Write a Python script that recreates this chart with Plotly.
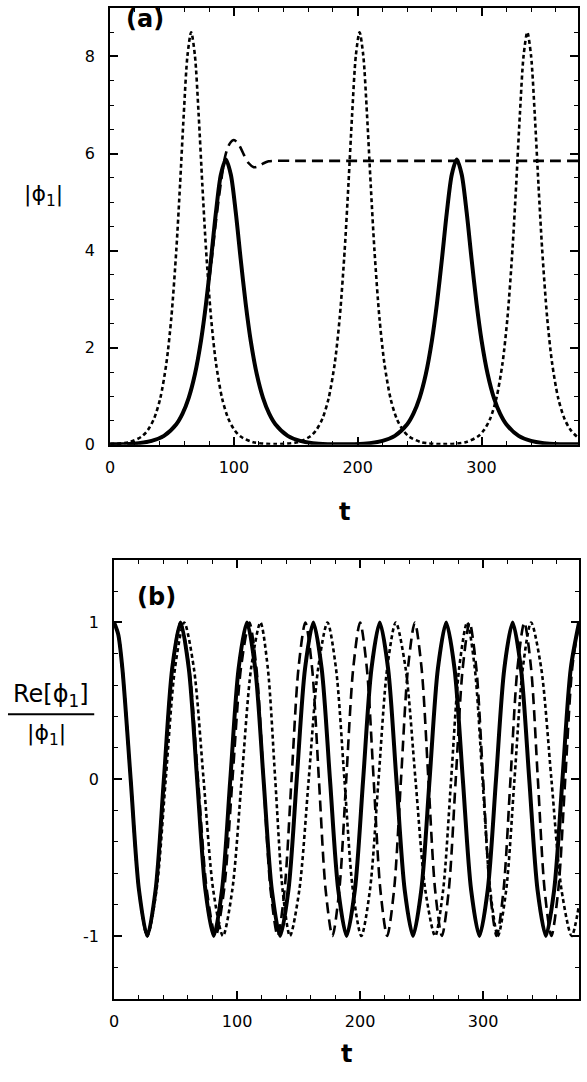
import plotly.graph_objects as go

W, H = 587, 1082

# ---------------- panel (a) data ----------------
a_t_solid = [0, 18.5, 33.5, 43.5, 53.5, 58.5, 63.5, 68.5, 73.5, 77.5, 81.5, 85.5, 89.5, 93.5, 97.5,
             101.5, 105.5, 109.5, 113.5, 118.5, 123.5, 128.5, 133.5, 143.5, 153.5, 168.5, 186.75,
             205, 220, 230, 240, 245, 250, 255, 260, 264, 268, 272, 276, 280, 284, 288, 292, 296,
             300, 305, 310, 315, 320, 330, 340, 355, 378]
a_solid = [0.01, 0.023, 0.081, 0.185, 0.425, 0.642, 0.969, 1.454, 2.158, 2.91, 3.82, 4.79, 5.57, 5.88, 5.57,
           4.79, 3.82, 2.91, 2.158, 1.454, 0.969, 0.642, 0.425, 0.185, 0.081, 0.023, 0.01,
           0.023, 0.081, 0.185, 0.425, 0.642, 0.969, 1.454, 2.158, 2.91, 3.82, 4.79, 5.57, 5.88, 5.57, 4.79, 3.82, 2.91,
           2.158, 1.454, 0.969, 0.642, 0.425, 0.185, 0.081, 0.023, 0.011]

a_t_dotted = [0, 15.5, 25.5, 30.5, 35.5, 40.5, 45.5, 49.5, 53.5, 56.5, 59.5, 62.5, 65.5, 68.5, 71.5, 74.5,
              77.5, 81.5, 85.5, 90.5, 95.5, 100.5, 105.5, 115.5, 133.5,
              151.5, 161.5, 166.5, 171.5, 176.5, 181.5, 185.5, 189.5, 192.5, 195.5, 198.5, 201.5, 204.5,
              207.5, 210.5, 213.5, 217.5, 221.5, 226.5, 231.5, 236.5, 241.5, 251.5, 269.25,
              287, 297, 302, 307, 312, 317, 321, 325, 328, 331, 334, 337, 340, 343, 346, 349, 353, 357,
              362, 367, 372, 377, 378]
a_dotted = [0.015, 0.054, 0.171, 0.304, 0.539, 0.956, 1.688, 2.63, 4.02, 5.36, 6.81, 8.02, 8.5, 8.02, 6.81, 5.36,
            4.02, 2.63, 1.688, 0.956, 0.539, 0.304, 0.171, 0.054, 0.0145,
            0.054, 0.171, 0.304, 0.539, 0.956, 1.688, 2.63, 4.02, 5.36, 6.81, 8.02, 8.5, 8.02,
            6.81, 5.36, 4.02, 2.63, 1.688, 0.956, 0.539, 0.304, 0.171, 0.054, 0.0145,
            0.054, 0.171, 0.304, 0.539, 0.956, 1.688, 2.63, 4.02, 5.36, 6.81, 8.02, 8.5, 8.02, 6.81, 5.36, 4.02, 2.63, 1.688,
            0.956, 0.539, 0.304, 0.171, 0.155]

a_t_dashed = [0, 18.5, 33.5, 43.5, 53.5, 58.5, 63.5, 68.5, 73.5, 77.5, 81.5, 85.5, 89.5, 93, 96.5, 100,
              104, 108, 112, 116, 120, 124, 128, 132, 150, 200, 250, 300, 350, 378]
a_dashed = [0.01, 0.023, 0.081, 0.185, 0.425, 0.642, 0.969, 1.454, 2.158, 2.91, 3.7, 4.6, 5.4, 5.95, 6.2, 6.28,
            6.18, 5.98, 5.8, 5.72, 5.74, 5.8, 5.84, 5.85, 5.85, 5.85, 5.85, 5.85, 5.85, 5.85]

# ---------------- panel (b) data ----------------
b_t_solid = [0, 3.375, 6.75, 13.5, 20.25, 27, 33.75, 40.5, 47.25, 54, 60.75, 67.5, 74.25, 81, 87.75, 94.5, 101.25,
             108, 114.75, 121.5, 128.25, 135, 141.75, 148.5, 155.25, 162, 168.75, 175.5, 182.25, 189, 195.75,
             202.5, 209.25, 216, 222.75, 229.5, 236.25, 243, 249.75, 256.5, 263.25, 270, 276.75, 283.5, 290.25,
             297, 303.75, 310.5, 317.25, 324, 330.75, 337.5, 344.25, 351, 357.75, 364.5, 371.25, 378]
b_solid = [1, 0.924, 0.707, 0, -0.707, -1, -0.707, 0, 0.707,
           1, 0.707, 0, -0.707, -1, -0.707, 0, 0.707,
           1, 0.707, 0, -0.707, -1, -0.707, 0, 0.707,
           1, 0.707, 0, -0.707, -1, -0.707, 0, 0.707,
           1, 0.707, 0, -0.707, -1, -0.707, 0, 0.707,
           1, 0.707, 0, -0.707, -1, -0.707, 0, 0.707,
           1, 0.707, 0, -0.707, -1, -0.707, 0, 0.707,
           1]

b_t_dashed = [0, 3.375, 6.75, 13.5, 20.25, 27, 33.75, 40.5, 47.25, 54, 61.1, 68.25, 75.4, 82.5, 89.4, 96.25, 103.1,
              110, 115.75, 121.5, 127.25, 133, 138.6, 144.25, 149.9, 155.5, 161, 166.5, 172, 177.5, 183.1,
              188.75, 194.4, 200, 205.5, 211, 216.5, 222, 227.6, 233.25, 238.9, 244.5, 250, 255.5, 261,
              266.5, 272.1, 277.75, 283.4, 289, 294.5, 300, 305.5, 311, 316.6, 322.25, 327.9, 333.5, 339,
              344.5, 350, 355.5, 361.1, 366.75, 372.4, 378]
b_dashed = [1, 0.924, 0.707, 0, -0.707, -1, -0.707, 0, 0.707,
            1, 0.707, 0, -0.707, -1, -0.707, 0, 0.707,
            1, 0.707, 0, -0.707, -1, -0.707, 0, 0.707,
            1, 0.707, 0, -0.707, -1, -0.707, 0, 0.707,
            1, 0.707, 0, -0.707, -1, -0.707, 0, 0.707,
            1, 0.707, 0, -0.707, -1, -0.707, 0, 0.707,
            1, 0.707, 0, -0.707, -1, -0.707, 0, 0.707,
            1, 0.707, 0, -0.707, -1, -0.707, 0, 0.707,
            1]

b_t_dotted = [0, 3.375, 6.75, 13.5, 20.25, 27, 34.5, 42, 49.5, 57, 64.9, 72.75, 80.6, 88.5, 96.1, 103.75, 111.4,
              119, 125, 131, 137, 143, 150.6, 158.25, 165.9, 173.5, 180.4, 187.25, 194.1, 201, 208, 215,
              222, 229, 237, 245, 253, 261, 267.5, 274, 280.5, 287, 293.25, 299.5, 305.75, 312, 318.75,
              325.5, 332.25, 339, 347.25, 355.5, 363.75, 372, 378]
b_dotted = [1, 0.924, 0.707, 0, -0.707, -1, -0.707, 0, 0.707,
            1, 0.707, 0, -0.707, -1, -0.707, 0, 0.707,
            1, 0.707, 0, -0.707, -1, -0.707, 0, 0.707,
            1, 0.707, 0, -0.707, -1, -0.707, 0, 0.707,
            1, 0.707, 0, -0.707, -1, -0.707, 0, 0.707,
            1, 0.707, 0, -0.707, -1, -0.707, 0, 0.707,
            1, 0.707, 0, -0.707, -1, -0.8]

a_xticks = [0, 100, 200, 300]
a_yticks = [0, 2, 4, 6, 8]
b_yticks = [-1, 0, 1]
b_yticktext = ["-1", "0", "1"]


def px(x):
    return x / W


def py(y):
    return 1 - y / H


FONT = "DejaVu Sans"

fig = go.Figure()

DOT = dict(color="black", width=2.6, dash="4px,3px", shape="spline", smoothing=0.8)
DASH = dict(color="black", width=2.6, dash="11px,6px", shape="spline", smoothing=0.8)
SOLID = dict(color="black", width=4, shape="spline", smoothing=0.8)

fig.add_trace(go.Scatter(x=a_t_dotted, y=a_dotted, mode="lines", line=DOT, xaxis="x", yaxis="y"))
fig.add_trace(go.Scatter(x=a_t_dashed, y=a_dashed, mode="lines", line=DASH, xaxis="x", yaxis="y"))
fig.add_trace(go.Scatter(x=a_t_solid, y=a_solid, mode="lines", line=SOLID, xaxis="x", yaxis="y"))

fig.add_trace(go.Scatter(x=b_t_dotted, y=b_dotted, mode="lines", line=DOT, xaxis="x2", yaxis="y2"))
fig.add_trace(go.Scatter(x=b_t_dashed, y=b_dashed, mode="lines", line=DASH, xaxis="x2", yaxis="y2"))
fig.add_trace(go.Scatter(x=b_t_solid, y=b_solid, mode="lines", line=SOLID, xaxis="x2", yaxis="y2"))


def axis_common(standoff):
    return dict(showline=True, linecolor="black", linewidth=2, mirror="ticks",
                ticks="inside", ticklen=8, tickwidth=1.5, tickcolor="black",
                showgrid=False, zeroline=False,
                tickfont=dict(family=FONT, size=16, color="black"),
                ticklabelstandoff=standoff)


xa = axis_common(7)
xa.update(domain=[px(106), px(578)], range=[0, 378], tickmode="array", tickvals=a_xticks,
          anchor="y",
          minor=dict(tickmode="linear", tick0=0, dtick=20, ticks="inside", ticklen=4,
                     tickwidth=1.2, tickcolor="black", showgrid=False))
ya = axis_common(10)
ya.update(domain=[py(449), py(8)], range=[0, 9], tickmode="array", tickvals=a_yticks,
          anchor="x",
          minor=dict(tickmode="linear", tick0=0, dtick=0.5, ticks="inside", ticklen=4,
                     tickwidth=1.2, tickcolor="black", showgrid=False))
xb = axis_common(7)
xb.update(domain=[px(110), px(579)], range=[0, 378], tickmode="array", tickvals=a_xticks,
          anchor="y2",
          minor=dict(tickmode="linear", tick0=0, dtick=20, ticks="inside", ticklen=4,
                     tickwidth=1.2, tickcolor="black", showgrid=False))
yb = axis_common(10)
yb.update(domain=[py(1008), py(565)], range=[-1.4, 1.4], tickmode="array", tickvals=b_yticks,
          ticktext=b_yticktext, anchor="x2",
          minor=dict(tickmode="linear", tick0=0, dtick=0.2, ticks="inside", ticklen=4,
                     tickwidth=1.2, tickcolor="black", showgrid=False))

annotations = [
    dict(x=px(141), y=py(19), text="<b>(a)</b>", font=dict(family=FONT, size=24)),
    dict(x=px(153), y=py(603), text="<b>(b)</b>", font=dict(family=FONT, size=24)),
    dict(x=px(342), y=py(517), text="<b>t</b>", font=dict(family=FONT, size=24)),
    dict(x=px(344), y=py(1064), text="<b>t</b>", font=dict(family=FONT, size=24)),
    dict(x=px(39), y=py(197), text="|ϕ<sub>1</sub>|", font=dict(family=FONT, size=22)),
    dict(x=px(46), y=py(702), text="Re[ϕ<sub>1</sub>]", font=dict(family=FONT, size=24)),
    dict(x=px(42), y=py(741), text="|ϕ<sub>1</sub>|", font=dict(family=FONT, size=22)),
]
for a in annotations:
    a.update(xref="paper", yref="paper", showarrow=False, xanchor="center", yanchor="middle")

fig.update_layout(
    width=W, height=H,
    margin=dict(l=0, r=0, t=0, b=0),
    paper_bgcolor="white", plot_bgcolor="white",
    showlegend=False,
    font=dict(family=FONT, size=16, color="black"),
    xaxis=xa, yaxis=ya, xaxis2=xb, yaxis2=yb,
    annotations=annotations,
    shapes=[dict(type="line", xref="paper", yref="paper", x0=px(3), x1=px(90),
                 y0=py(721), y1=py(721), line=dict(color="black", width=2))],
)

fig.write_html(
    "out.html",
    config={"displayModeBar": False},
    post_script=("document.documentElement.style.margin='0';"
                 "document.body.style.margin='0';document.body.style.padding='0';"
                 "document.documentElement.style.overflow='hidden';"
                 "document.body.style.overflow='hidden';"),
)
